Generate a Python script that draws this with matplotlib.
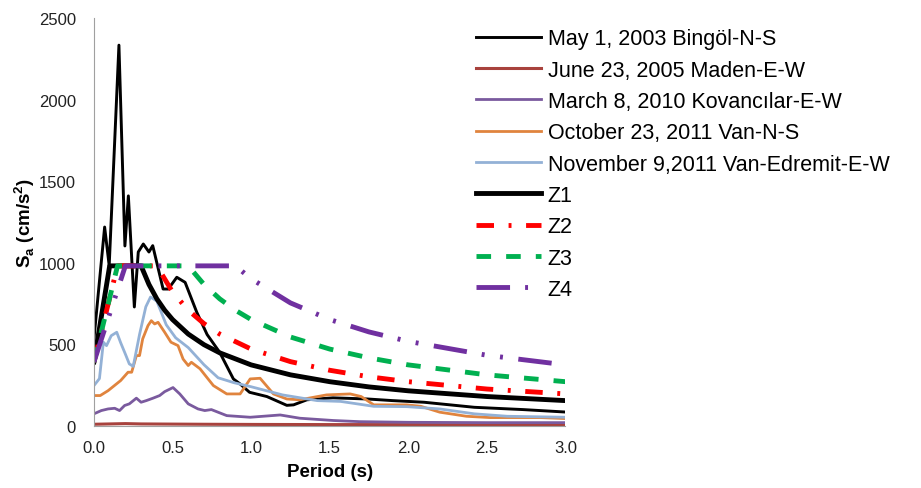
import matplotlib
matplotlib.use("Agg")
import matplotlib.pyplot as plt

plt.rcParams["font.family"] = ["Liberation Sans", "DejaVu Sans"]

# ── kayıt spektrumları (okunan değerler) ──────────────────────────
bingol_t = [0.0, 0.068, 0.097, 0.159, 0.197, 0.219, 0.257, 0.282, 0.314, 0.35,
            0.374, 0.44, 0.473, 0.527, 0.58, 0.654, 0.72, 0.80, 0.887, 0.93,
            0.99, 1.1, 1.227, 1.27, 1.355, 1.52, 1.74, 1.9, 2.1, 2.42, 2.73, 3.0]
bingol_sa = [533, 1219, 982, 2334, 1103, 1410, 729, 1066, 1115, 1066,
             1105, 839, 839, 911, 880, 697, 560, 451, 288, 257,
             206, 180, 126, 129, 160, 172, 165, 155, 145, 114, 100, 85]

maden_t = [0.0, 0.1, 0.2, 0.3, 0.5, 0.7, 1.0, 1.5, 2.0, 2.5, 3.0]
maden_sa = [10, 12, 14, 12, 11, 10, 9, 8, 8, 7, 7]

kovan_t = [0.0, 0.047, 0.09, 0.132, 0.163, 0.195, 0.225, 0.27, 0.30, 0.333,
           0.376, 0.418, 0.45, 0.503, 0.546, 0.60, 0.662, 0.705, 0.747, 0.845,
           0.994, 1.185, 1.31, 1.524, 1.69, 2.0, 2.5, 3.0]
kovan_sa = [74, 94, 104, 108, 94, 125, 135, 170, 145, 155,
            170, 186, 210, 235, 196, 135, 104, 94, 100, 63,
            53, 67, 47, 33, 26, 22, 20, 20]

van_t = [0.0, 0.04, 0.09, 0.13, 0.17, 0.217, 0.24, 0.27, 0.29, 0.31,
         0.344, 0.365, 0.386, 0.408, 0.45, 0.49, 0.535, 0.567, 0.60, 0.62,
         0.675, 0.726, 0.76, 0.845, 0.93, 0.994, 1.057, 1.142, 1.227, 1.31,
         1.48, 1.63, 1.70, 1.78, 1.99, 2.08, 2.2, 2.37, 2.52, 2.84, 3.0]
van_sa = [186, 186, 216, 247, 278, 329, 329, 431, 431, 533,
          615, 645, 625, 635, 574, 513, 492, 410, 370, 390,
          350, 288, 247, 196, 196, 288, 292, 196, 165, 160,
          190, 196, 180, 129, 129, 120, 84, 59, 51, 51, 45]

edremit_t = [0.0, 0.035, 0.06, 0.08, 0.11, 0.145, 0.17, 0.20, 0.225, 0.25,
             0.29, 0.33, 0.36, 0.40, 0.46, 0.52, 0.60, 0.70, 0.79, 0.89,
             1.0, 1.2, 1.42, 1.57, 1.78, 1.99, 2.2, 2.42, 2.63, 3.0]
edremit_sa = [247, 290, 513, 492, 553, 574, 510, 440, 380, 365,
              560, 730, 790, 765, 620, 540, 480, 375, 295, 265,
              240, 190, 155, 150, 120, 118, 104, 74, 59, 53]

# ── tasarım spektrumları Z1-Z4 (okunan değerler) ─────────────────
z1_t = [0.0, 0.1, 0.3, 0.35, 0.4, 0.45, 0.5, 0.6, 0.7, 0.8, 1.0, 1.25, 1.5, 1.75, 2.0, 2.5, 3.0]
z1_sa = [392, 981, 981, 867, 779, 709, 652, 563, 498, 448, 374, 313, 271, 239, 215, 180, 155]

z2_t = [0.0, 0.15, 0.4, 0.5, 0.6, 0.7, 0.8, 1.0, 1.25, 1.5, 1.75, 2.0, 2.5, 3.0]
z2_sa = [392, 981, 981, 821, 709, 627, 563, 471, 394, 341, 301, 271, 226, 196]

z3_t = [0.0, 0.15, 0.6, 0.7, 0.8, 0.9, 1.0, 1.25, 1.5, 1.75, 2.0, 2.5, 3.0]
z3_sa = [392, 981, 981, 867, 779, 709, 652, 545, 471, 417, 374, 313, 271]

z4_t = [0.0, 0.2, 0.9, 1.0, 1.25, 1.5, 1.75, 2.0, 2.5, 3.0]
z4_sa = [392, 981, 981, 902, 754, 652, 576, 518, 433, 374]

fig = plt.figure(figsize=(9.21, 4.89), dpi=100)
ax = fig.add_axes([0.102, 0.127, 0.512, 0.834])

ax.plot(bingol_t, bingol_sa, color="black", lw=2.1, label="May 1, 2003 Bingöl-N-S")
ax.plot(maden_t, maden_sa, color="#A8423D", lw=2.2, label="June 23, 2005 Maden-E-W")
ax.plot(kovan_t, kovan_sa, color="#7A5A9E", lw=2.0, label="March 8, 2010 Kovancılar-E-W")
ax.plot(van_t, van_sa, color="#E0843E", lw=2.0, label="October 23, 2011 Van-N-S")
ax.plot(edremit_t, edremit_sa, color="#93B1D6", lw=2.0, label="November 9,2011 Van-Edremit-E-W")
ax.plot(z1_t, z1_sa, color="black", lw=3.5, label="Z1")
ax.plot(z2_t, z2_sa, color="#FF0000", lw=3.5, dashes=(3.6, 3.0, 0.6, 3.0), label="Z2")
ax.plot(z3_t, z3_sa, color="#00B050", lw=3.5, dashes=(3.0, 3.1), label="Z3")
ax.plot(z4_t, z4_sa, color="#7030A0", lw=3.5,
        dashes=(6.9, 3.1, 0.6, 3.2, 0.6, 3.2), label="Z4")

ax.set_xlim(0, 3.0)
ax.set_ylim(0, 2500)
ax.set_xticks([0, 0.5, 1.0, 1.5, 2.0, 2.5, 3.0])
ax.set_xticklabels(["0.0", "0.5", "1.0", "1.5", "2.0", "2.5", "3.0"])
ax.set_yticks([0, 500, 1000, 1500, 2000, 2500])
ax.tick_params(axis="both", length=0, labelsize=12, labelcolor="#222222")
ax.tick_params(axis="y", pad=13)
ax.tick_params(axis="x", pad=10)

for s in ["top", "right"]:
    ax.spines[s].set_visible(False)
ax.spines["left"].set_color("#A0A0A0")
ax.spines["bottom"].set_color("#A0A0A0")

ax.set_xlabel("Period (s)", fontsize=13.5, fontweight="bold", labelpad=6)
ax.set_ylabel("S$_\\mathregular{a}$ (cm/s$^\\mathregular{2}$)", fontsize=13.5,
              fontweight="bold", labelpad=1)

fig.legend(loc="upper left", bbox_to_anchor=(0.517, 0.94), frameon=False,
           fontsize=15.5, handlelength=3.0, handletextpad=0.33, labelspacing=0.48,
           borderpad=0, borderaxespad=0)

fig.savefig("out.png", dpi=100)
